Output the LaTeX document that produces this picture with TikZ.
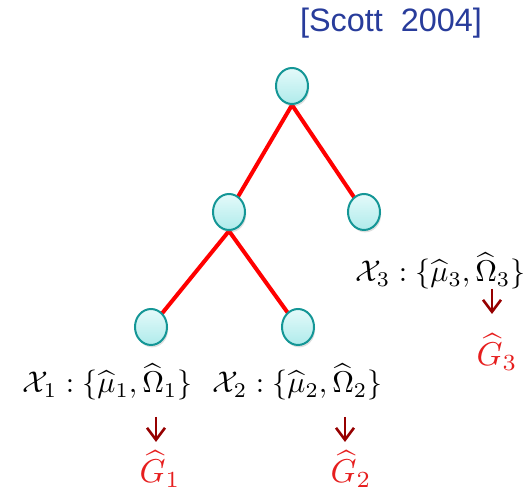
\documentclass[tikz,border=0pt]{standalone}
\usepackage{amsmath}
\usepackage{fontspec}
\newfontfamily\refsans{Liberation Sans}
\usetikzlibrary{arrows.meta,shadows,backgrounds,shapes.geometric}
\definecolor{refblue}{RGB}{40,60,155}
\definecolor{nodeedge}{RGB}{20,150,150}
\definecolor{nodetop}{RGB}{228,250,250}
\definecolor{nodebot}{RGB}{175,235,235}
\definecolor{arrowred}{RGB}{150,0,0}
\definecolor{gred}{RGB}{230,30,30}
\tikzset{
  treenode/.style={ellipse, minimum width=16pt, minimum height=18pt, inner sep=0pt,
    draw=nodeedge, line width=1pt, top color=nodetop, bottom color=nodebot,
    drop shadow={opacity=0.25, shadow xshift=0.6pt, shadow yshift=-1.2pt}},
  treeedge/.style={red, line width=2pt},
  labeltext/.style={inner sep=0pt, font=\normalsize, scale=1.5},
  gtext/.style={inner sep=0pt, text=gred, font=\normalsize, scale=1.65},
  downarrow/.style={arrowred, line width=1.3pt, -{Straight Barb[length=6pt,width=9pt,line width=1.3pt]}}
}
\begin{document}
\begin{tikzpicture}[x=0.5pt,y=-0.5pt]
\useasboundingbox (0,0) rectangle (526,491);
\node[inner sep=0pt, text=refblue, font=\refsans\fontsize{16.2}{19}\selectfont, anchor=base] (ref) at (391,32) {[Scott\ \ 2004]};
\node[treenode] (root) at (292,86) {};
\node[treenode] (mid) at (229,212) {};
\node[treenode] (right) at (364,212) {};
\node[treenode] (leafa) at (151,327) {};
\node[treenode] (leafb) at (298,327) {};
\begin{scope}[on background layer]
\draw[treeedge] (root.south) -- (mid.center);
\draw[treeedge] (root.south) -- (right.center);
\draw[treeedge] (mid.south) -- (leafa.center);
\draw[treeedge] (mid.south) -- (leafb.center);
\end{scope}
\node[labeltext, anchor=base west] (xa) at (22,393) {$\mathcal{X}_1:\{\widehat{\mu}_1,\widehat{\Omega}_1\}$};
\node[labeltext, anchor=base west] (xb) at (212,393) {$\mathcal{X}_2:\{\widehat{\mu}_2,\widehat{\Omega}_2\}$};
\node[labeltext, anchor=base west] (xc) at (355,282) {$\mathcal{X}_3:\{\widehat{\mu}_3,\widehat{\Omega}_3\}$};
\node[gtext, anchor=base] (ga) at (160,483) {$\widehat{G}_1$};
\node[gtext, anchor=base] (gb) at (351,483) {$\widehat{G}_2$};
\node[gtext, anchor=base] (gc) at (497,366) {$\widehat{G}_3$};
\coordinate (as) at (156,417);
\coordinate (ae) at (156,442);
\coordinate (bs) at (345,417);
\coordinate (be) at (345,442);
\coordinate (cs) at (492,289);
\coordinate (ce) at (492,314);
\draw[downarrow] (as) -- (ae);
\draw[downarrow] (bs) -- (be);
\draw[downarrow] (cs) -- (ce);
\end{tikzpicture}
\end{document}
